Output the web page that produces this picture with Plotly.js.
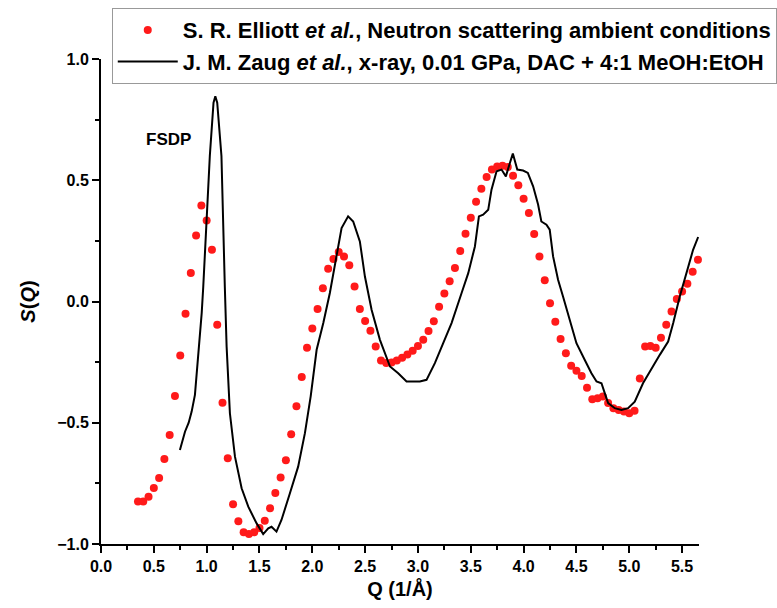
<!DOCTYPE html>
<html><head><meta charset="utf-8">
<script src="https://cdn.plot.ly/plotly-3.0.1.min.js"></script>
<style>html,body{margin:0;padding:0;background:#fff}#chart{width:777px;height:608px}</style>
</head><body><div id="chart"></div>
<script>
// Neutron scattering (Elliott) – red dots
const elliottQ = [0.35,0.40,0.45,0.50,0.55,0.60,0.65,0.70,0.75,0.80,0.85,0.90,0.95,1.00,1.05,1.10,1.15,1.20,1.25,1.30,1.35,1.40,1.45,1.50,1.55,1.60,1.65,1.70,1.75,1.80,1.85,1.90,1.95,2.00,2.05,2.10,2.15,2.20,2.25,2.30,2.35,2.40,2.45,2.50,2.55,2.60,2.65,2.70,2.75,2.80,2.85,2.90,2.95,3.00,3.05,3.10,3.15,3.20,3.25,3.30,3.35,3.40,3.45,3.50,3.55,3.60,3.65,3.70,3.75,3.80,3.85,3.90,3.95,4.00,4.05,4.10,4.15,4.20,4.25,4.30,4.35,4.40,4.45,4.50,4.55,4.60,4.65,4.70,4.75,4.80,4.85,4.90,4.95,5.00,5.05,5.10,5.15,5.20,5.25,5.30,5.35,5.40,5.45,5.50,5.55,5.60,5.65];
const elliottS = [-0.825,-0.825,-0.805,-0.769,-0.728,-0.649,-0.550,-0.390,-0.223,-0.050,0.118,0.272,0.396,0.334,0.213,-0.096,-0.418,-0.646,-0.836,-0.906,-0.952,-0.959,-0.952,-0.934,-0.904,-0.853,-0.790,-0.726,-0.655,-0.547,-0.432,-0.311,-0.191,-0.111,-0.031,0.055,0.135,0.175,0.204,0.186,0.150,0.062,-0.031,-0.080,-0.121,-0.186,-0.243,-0.254,-0.252,-0.243,-0.232,-0.219,-0.203,-0.183,-0.158,-0.122,-0.081,-0.022,0.033,0.083,0.138,0.208,0.279,0.345,0.411,0.465,0.513,0.544,0.557,0.560,0.555,0.519,0.479,0.424,0.365,0.278,0.186,0.088,-0.007,-0.083,-0.155,-0.213,-0.265,-0.286,-0.307,-0.356,-0.403,-0.399,-0.392,-0.419,-0.440,-0.447,-0.454,-0.461,-0.450,-0.318,-0.186,-0.183,-0.191,-0.149,-0.096,-0.041,0.010,0.041,0.073,0.123,0.172];

// X-ray (Zaug) – black line
const zaugQ = [0.747,0.795,0.83,0.858,0.889,0.92,0.953,0.968,1.03,1.065,1.082,1.10,1.14,1.172,1.189,1.22,1.268,1.331,1.394,1.473,1.535,1.583,1.614,1.661,1.708,1.788,1.866,1.93,1.985,2.041,2.104,2.166,2.229,2.277,2.339,2.387,2.45,2.498,2.561,2.64,2.735,2.813,2.892,3.018,3.081,3.16,3.239,3.318,3.413,3.476,3.539,3.577,3.617,3.665,3.696,3.744,3.791,3.832,3.87,3.898,3.94,3.995,4.04,4.09,4.137,4.168,4.216,4.247,4.279,4.326,4.373,4.437,4.5,4.579,4.642,4.69,4.737,4.768,4.80,4.863,4.926,4.989,5.052,5.13,5.21,5.289,5.368,5.416,5.478,5.541,5.604,5.652];
const zaugS = [-0.612,-0.537,-0.50,-0.454,-0.385,-0.227,-0.048,0.062,0.60,0.82,0.846,0.82,0.60,0.06,-0.186,-0.461,-0.64,-0.77,-0.846,-0.915,-0.959,-0.935,-0.929,-0.949,-0.901,-0.791,-0.681,-0.543,-0.39,-0.199,-0.089,0.035,0.186,0.303,0.351,0.33,0.248,0.103,-0.034,-0.158,-0.268,-0.296,-0.33,-0.33,-0.323,-0.254,-0.172,-0.089,0.035,0.117,0.227,0.351,0.358,0.378,0.461,0.537,0.544,0.516,0.571,0.61,0.544,0.54,0.53,0.475,0.40,0.33,0.317,0.296,0.186,0.09,0.021,-0.076,-0.172,-0.241,-0.296,-0.33,-0.337,-0.378,-0.419,-0.44,-0.447,-0.44,-0.413,-0.337,-0.275,-0.22,-0.165,-0.089,0.021,0.117,0.213,0.266];

const seriesNames = [
  'S. R. Elliott <i>et al.</i>, Neutron scattering ambient conditions',
  'J. M. Zaug <i>et al.</i>, x-ray, 0.01 GPa, DAC + 4:1 MeOH:EtOH'
];

const FONT = 'Liberation Sans, Arial, sans-serif';

const traces = [
  {x: elliottQ, y: elliottS, name: seriesNames[0], type: 'scatter', mode: 'markers',
   marker: {color: '#ff1a1a', size: 8}, cliponaxis: false},
  {x: zaugQ, y: zaugS, name: seriesNames[1], type: 'scatter', mode: 'lines',
   line: {color: '#000', width: 2}, cliponaxis: false}
];

const axisCommon = {
  showgrid: false, zeroline: false, showline: true, linecolor: '#000', linewidth: 2,
  ticks: 'outside', ticklen: 7, tickwidth: 2, tickcolor: '#000',
  tickfont: {family: FONT, size: 16, color: '#000', weight: 'bold'},
  mirror: false
};

const layout = {
  width: 777, height: 608,
  paper_bgcolor: '#fff', plot_bgcolor: '#fff',
  margin: {l: 101, r: 78, t: 59, b: 64, autoexpand: false},
  showlegend: true,
  legend: {
    x: 0.018, y: 1.105, xanchor: 'left', yanchor: 'top',
    bordercolor: '#999', borderwidth: 1, bgcolor: '#fff',
    font: {family: FONT, size: 22, color: '#000', weight: 'bold'},
    itemwidth: 60, tracegroupgap: 0
  },
  xaxis: Object.assign({}, axisCommon, {
    range: [0, 5.66], tick0: 0, dtick: 0.5, tickformat: '.1f',
    minor: {dtick: 0.25, ticklen: 4, tickwidth: 2, tickcolor: '#000', ticks: 'outside'},
    title: {text: 'Q (1/Å)', font: {family: FONT, size: 20, color: '#000', weight: 'bold'}, standoff: 8}
  }),
  yaxis: Object.assign({}, axisCommon, {
    range: [-1, 1], tick0: -1, dtick: 0.5, tickformat: '.1f',
    minor: {dtick: 0.25, ticklen: 4, tickwidth: 2, tickcolor: '#000', ticks: 'outside'},
    title: {text: '<i>S</i>(<i>Q</i>)', font: {family: FONT, size: 20, color: '#000', weight: 'bold'}, standoff: 16}
  }),
  annotations: [
    {x: 0.64, y: 0.67, xref: 'x', yref: 'y', text: 'FSDP', showarrow: false,
     font: {family: FONT, size: 17, color: '#000', weight: 'bold'}}
  ]
};

Plotly.newPlot('chart', traces, layout, {displayModeBar: false, staticPlot: true});
</script>
</body></html>
